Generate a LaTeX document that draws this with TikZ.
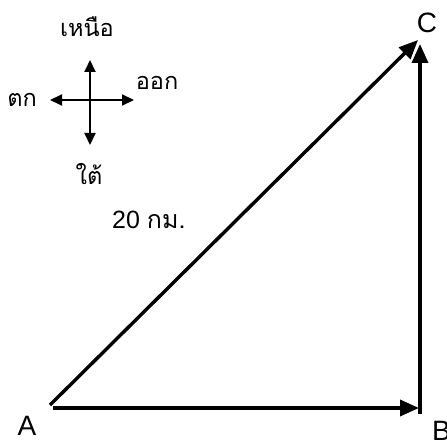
\documentclass[tikz,border=0pt]{standalone}
\usepackage{fontspec}
\setmainfont{Liberation Sans}
\newfontfamily\thaifont[Script=Thai]{Loma}
\usetikzlibrary{arrows.meta}
\begin{document}
\begin{tikzpicture}[x=1pt,y=-1pt,
  vec/.style={line width=3.4pt,-{Triangle[length=19pt,width=16pt]}},
  cmp/.style={line width=2pt,-{Triangle[length=12pt,width=11pt]}},
  lbl/.style={inner sep=0pt,anchor=base,font=\fontsize{28}{30}\selectfont},
  dlbl/.style={inner sep=0pt,anchor=base west,font=\fontsize{25}{28}\selectfont},
  tlbl/.style={inner sep=0pt,anchor=base,font=\thaifont\fontsize{23.5}{26}\selectfont}]
\useasboundingbox (0,0) rectangle (447,441);
% main points
\coordinate (A) at (50,405);
\coordinate (Ah) at (53,408);
\coordinate (B) at (419,408);
\coordinate (Bv) at (420,414);
\coordinate (C) at (418,40);
\coordinate (Cv) at (420,44);
\draw[vec] (A) -- (C);
\draw[vec] (Ah) -- (B);
\draw[vec] (Bv) -- (Cv);
\node[lbl] (la) at (27,435) {A};
\node[lbl,anchor=base west] (lb) at (432,440) {B};
\node[lbl] (lc) at (427,33) {C};
\node[dlbl] (dist) at (112,228) {20 {\thaifont กม.}};
% compass
\coordinate (O) at (90,100);
\coordinate (N) at (90,60);
\coordinate (S) at (90,145);
\coordinate (W) at (50,100);
\coordinate (E) at (134,100);
\draw[cmp] (O) -- (N);
\draw[cmp] (O) -- (S);
\draw[cmp] (O) -- (W);
\draw[cmp] (O) -- (E);
\node[tlbl] (ln) at (87,37) {เหนือ};
\node[tlbl] (le) at (157,90) {ออก};
\node[tlbl] (lw) at (22,107) {ตก};
\node[tlbl] (ls) at (89,184) {ใต้};
\end{tikzpicture}
\end{document}
